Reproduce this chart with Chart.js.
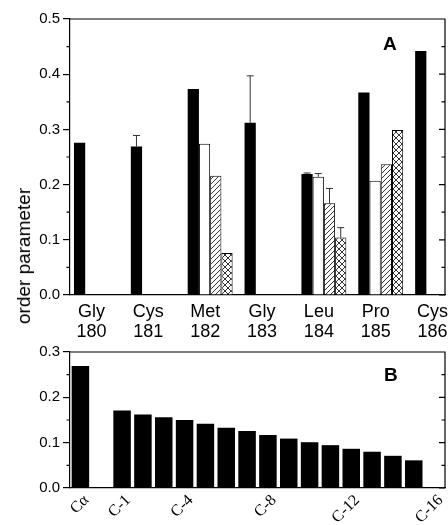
<!DOCTYPE html>
<html>
<head>
<meta charset="utf-8">
<script src="https://cdn.jsdelivr.net/npm/chart.js@4"></script>
<style>
    body { margin: 0; background: #fff; }
    #wrap { position: relative; width: 448px; height: 525px; overflow: hidden; font-family: "Liberation Sans", Arial, sans-serif; }
    #top-box { position: absolute; left: 0; top: 0; width: 448px; height: 350px; }
    #bottom-box { position: absolute; left: 0; top: 340px; width: 448px; height: 185px; }
    .panel-tag { position: absolute; font-weight: bold; font-size: 19px; color: #000; }
    #y-title { position: absolute; left: 24px; top: 256px; transform: translate(-50%, -50%) rotate(-90deg); font-size: 19px; white-space: nowrap; color: #000; }
</style>
</head>
<body>
<div id="wrap">
    <div id="top-box"><canvas id="residueChart"></canvas></div>
    <div id="bottom-box"><canvas id="chainChart"></canvas></div>
    <div id="y-title">order parameter</div>
    <div class="panel-tag" style="left:383px; top:33px;">A</div>
    <div class="panel-tag" style="left:384px; top:364px;">B</div>
</div>
<script>
// panel A: residues
const residueNames = ['Gly', 'Cys', 'Met', 'Gly', 'Leu', 'Pro', 'Cys'];
const residueNums = ['180', '181', '182', '183', '184', '185', '186'];
const solidVals = [0.276, 0.269, 0.373, 0.312, 0.219, 0.367, 0.442];
const openVals = [null, null, 0.274, null, 0.214, 0.207, null];
const hatchVals = [null, null, 0.216, null, 0.166, 0.237, null];
const crossVals = [null, null, 0.076, null, 0.104, 0.299, null];
// upper end of the error bars
const solidErr = [null, 0.289, null, 0.397, 0.221, null, null];
const openErr = [null, null, null, null, 0.220, null, null];
const hatchErr = [null, null, null, null, 0.193, null, null];
const crossErr = [null, null, null, null, 0.122, null, null];

// panel B: chain positions
const chainCats = ['Cα', '', 'C-1', 'C-2', 'C-3', 'C-4', 'C-5', 'C-6', 'C-7', 'C-8',
    'C-9', 'C-10', 'C-11', 'C-12', 'C-13', 'C-14', 'C-15', 'C-16'];
const chainVals = [0.269, null, 0.171, 0.162, 0.156, 0.150, 0.142, 0.133, 0.126, 0.117,
    0.109, 0.101, 0.0945, 0.0865, 0.080, 0.071, 0.061, null];
const chainTickLabels = ['Cα', 'C-1', 'C-4', 'C-8', 'C-12', 'C-16'];

const sansFont = '"Liberation Sans", Arial, sans-serif';

function makeHatch(cross) {
    const size = cross ? 6 : 5;
    const c = document.createElement('canvas');
    c.width = size; c.height = size;
    const g = c.getContext('2d');
    g.fillStyle = '#fff';
    g.fillRect(0, 0, size, size);
    g.strokeStyle = '#000';
    g.lineWidth = 0.8;
    g.beginPath();
    g.moveTo(-1, size + 1); g.lineTo(size + 1, -1);
    g.moveTo(-1, 1); g.lineTo(1, -1);
    g.moveTo(size - 1, size + 1); g.lineTo(size + 1, size - 1);
    if (cross) {
        g.moveTo(-1, -1); g.lineTo(size + 1, size + 1);
        g.moveTo(-1, size - 1); g.lineTo(1, size + 1);
        g.moveTo(size - 1, -1); g.lineTo(size + 1, 1);
    }
    g.stroke();
    return g.createPattern(c, 'repeat');
}

// box round the plot plus minor ticks
const framePlugin = {
    id: 'frame',
    afterDraw(chart, args, opts) {
        const { ctx, chartArea: a } = chart;
        const y = chart.scales.y;
        ctx.save();
        ctx.strokeStyle = '#000';
        ctx.lineWidth = 1.2;
        ctx.beginPath();
        ctx.moveTo(a.left, a.top);
        ctx.lineTo(a.right, a.top);
        ctx.lineTo(a.right, a.bottom);
        const n = Math.round((y.max - y.min) / opts.minorStep);
        for (let k = 0; k <= n; k++) {
            const v = y.min + k * opts.minorStep;
            const p = y.getPixelForValue(v);
            const major = k % 2 === 0;
            if (!major) {
                ctx.moveTo(a.left, p);
                ctx.lineTo(a.left - 3.5, p);
            }
            ctx.moveTo(a.right, p);
            ctx.lineTo(a.right - (major ? 6 : 3.5), p);
        }
        ctx.stroke();
        ctx.restore();
    }
};

const errorBarPlugin = {
    id: 'errorBars',
    afterDatasetsDraw(chart) {
        const ctx = chart.ctx;
        const y = chart.scales.y;
        chart.data.datasets.forEach((ds, di) => {
            if (!ds.errTop) return;
            const meta = chart.getDatasetMeta(di);
            ds.errTop.forEach((e, i) => {
                if (e == null || !meta.data[i]) return;
                const bar = meta.data[i];
                const yTop = y.getPixelForValue(e);
                ctx.save();
                ctx.strokeStyle = '#333';
                ctx.lineWidth = 1;
                ctx.beginPath();
                ctx.moveTo(bar.x, bar.y);
                ctx.lineTo(bar.x, yTop);
                ctx.moveTo(bar.x - 3.5, yTop);
                ctx.lineTo(bar.x + 3.5, yTop);
                ctx.stroke();
                ctx.restore();
            });
        });
    }
};

function toPoints(vals) {
    return vals.map((v, i) => ({ x: i, y: v }));
}

function yAxis(max) {
    return {
        min: 0,
        max: max,
        ticks: {
            stepSize: 0.1,
            color: '#000',
            padding: 3,
            font: { family: sansFont, size: 15 },
            callback: v => v.toFixed(1)
        },
        grid: { drawOnChartArea: false, drawTicks: true, tickLength: 7, color: '#000', lineWidth: 1.2 },
        border: { display: true, color: '#000', width: 1.2 },
        afterFit: s => { s.width = 70; }
    };
}

function renderResidueChart() {
    const canvas = document.getElementById('residueChart');
    const common = { borderColor: '#000', borderWidth: 1, borderSkipped: 'start' };
    new Chart(canvas.getContext('2d'), {
        type: 'bar',
        data: {
            datasets: [
                { ...common, data: toPoints(solidVals), errTop: solidErr, backgroundColor: '#000', borderWidth: 0 },
                { ...common, data: toPoints(openVals), errTop: openErr, backgroundColor: '#fff' },
                { ...common, data: toPoints(hatchVals), errTop: hatchErr, backgroundColor: makeHatch(false) },
                { ...common, data: toPoints(crossVals), errTop: crossErr, backgroundColor: makeHatch(true) }
            ]
        },
        options: {
            responsive: true,
            maintainAspectRatio: false,
            animation: false,
            layout: { padding: { top: 19, right: 3, left: 0, bottom: 0 } },
            datasets: { bar: { categoryPercentage: 0.79, barPercentage: 1 } },
            plugins: { legend: { display: false }, tooltip: { enabled: false }, frame: { minorStep: 0.05 } },
            scales: {
                x: {
                    type: 'linear',
                    offset: false,
                    min: -0.465,
                    max: 6.13,
                    afterBuildTicks: s => { s.ticks = residueNames.map((n, i) => ({ value: i })); },
                    ticks: {
                        autoSkip: false,
                        maxRotation: 0,
                        color: '#000',
                        padding: 7,
                        labelOffset: -5,
                        font: { family: sansFont, size: 18, lineHeight: 1.1 },
                        callback: (v, i) => [residueNames[i], residueNums[i]]
                    },
                    grid: { display: false, drawTicks: false },
                    border: { display: true, color: '#000', width: 1.2 },
                    afterFit: s => { s.height = 55; s.paddingLeft = 0; s.paddingRight = 0; }
                },
                y: yAxis(0.5)
            }
        },
        plugins: [framePlugin, errorBarPlugin]
    });
}

function renderChainChart() {
    const canvas = document.getElementById('chainChart');
    new Chart(canvas.getContext('2d'), {
        type: 'bar',
        data: {
            labels: chainCats,
            datasets: [{ data: chainVals, backgroundColor: '#000', borderWidth: 0, categoryPercentage: 1, barPercentage: 0.84 }]
        },
        options: {
            responsive: true,
            maintainAspectRatio: false,
            animation: false,
            layout: { padding: { top: 10, right: 3, left: 0, bottom: 0 } },
            plugins: { legend: { display: false }, tooltip: { enabled: false }, frame: { minorStep: 0.05 } },
            scales: {
                x: {
                    ticks: {
                        autoSkip: false,
                        minRotation: 45,
                        maxRotation: 45,
                        color: '#000',
                        padding: 3,
                        labelOffset: 6,
                        font: { family: '"Liberation Serif", "Times New Roman", serif', size: 16 },
                        callback: (v, i) => chainTickLabels.includes(chainCats[i]) ? chainCats[i] : ''
                    },
                    grid: { display: false, drawTicks: false },
                    border: { display: true, color: '#000', width: 1.2 },
                    afterFit: s => { s.height = 37; s.paddingLeft = 0; s.paddingRight = 0; }
                },
                y: yAxis(0.3)
            }
        },
        plugins: [framePlugin]
    });
}

renderResidueChart();
renderChainChart();
</script>
</body>
</html>
